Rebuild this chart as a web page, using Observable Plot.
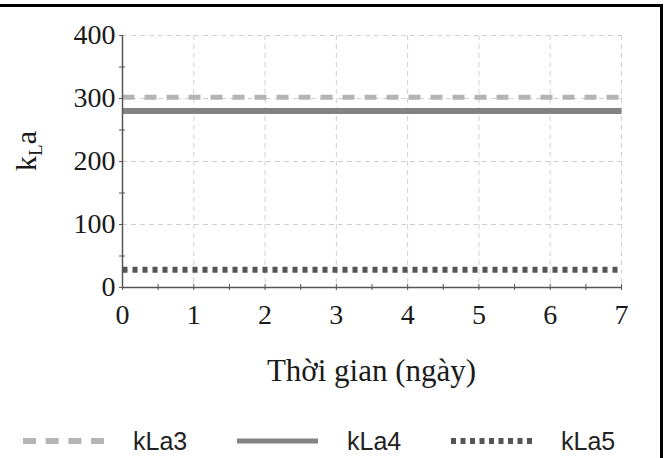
<!DOCTYPE html>
<html>
<head>
<meta charset="utf-8">
<script src="https://cdn.jsdelivr.net/npm/d3@7"></script>
<script src="https://cdn.jsdelivr.net/npm/@observablehq/plot@0.6"></script>
<style>
  body { margin: 0; background: #fff; }
  #wrap { position: relative; width: 667px; height: 458px; overflow: hidden; }
  #frame { position: absolute; left: 0; top: 4px; width: 660px; height: 460px;
           border-top: 3px solid #000; border-right: 3px solid #000; pointer-events: none; }
  #chart { position: absolute; left: 0; top: 0; }
  #legend { position: absolute; left: 0; top: 426px; width: 660px; height: 30px;
            font-family: "Liberation Sans Narrow", "Liberation Sans", Arial, sans-serif;
            font-size: 25px; color: #222; }
  #legend .item { position: absolute; top: 0; height: 30px; display: flex; align-items: center; }
  #legend svg { display: block; }
</style>
</head>
<body>
<div id="wrap">
  <div id="chart"></div>
  <div id="legend"></div>
  <div id="frame"></div>
</div>
<script>
// Data
const days = [0, 1, 2, 3, 4, 5, 6, 7];
const kLa3 = [302, 302, 302, 302, 302, 302, 302, 302];
const kLa4 = [280, 280, 280, 280, 280, 280, 280, 280];
const kLa5 = [28, 28, 28, 28, 28, 28, 28, 28];
const seriesNames = ["kLa3", "kLa4", "kLa5"];
const xTicks = [0, 1, 2, 3, 4, 5, 6, 7];
const xMinor = [0.5, 1.5, 2.5, 3.5, 4.5, 5.5, 6.5];
const yTicks = [0, 100, 200, 300, 400];
const yMinor = [50, 150, 250, 350];
const xLabel = "Thời gian (ngày)";

const styles = {
  kLa3: {stroke: "#b4b4b4", dash: "12,10", width: 5},
  kLa4: {stroke: "#838383", dash: null, width: 6},
  kLa5: {stroke: "#555555", dash: "5,5", width: 6}
};
const seriesData = {kLa3, kLa4, kLa5};
const rows = seriesNames.map(n => days.map((d, i) => ({day: d, value: seriesData[n][i], series: n})));

const serif = "'Liberation Serif', 'Times New Roman', serif";
const axisColor = "#555";
const textColor = "#1a1a1a";

const plot = Plot.plot({
  width: 667,
  height: 420,
  marginLeft: 122,
  marginRight: 46,
  marginTop: 35,
  marginBottom: 133,
  style: {fontFamily: serif, fontSize: "28px", color: textColor, background: "transparent", overflow: "visible"},
  x: {domain: [0, 7], label: null},
  y: {domain: [0, 400], label: null},
  marks: [
    Plot.gridX(xTicks, {stroke: "#d0d0d0", strokeOpacity: 1, strokeDasharray: "5,4", strokeWidth: 1}),
    Plot.gridY(yTicks, {stroke: "#d0d0d0", strokeOpacity: 1, strokeDasharray: "5,4", strokeWidth: 1}),
    ...rows.map((r, i) => Plot.line(r, {
      x: "day", y: "value",
      stroke: styles[seriesNames[i]].stroke,
      strokeWidth: styles[seriesNames[i]].width,
      strokeDasharray: styles[seriesNames[i]].dash,
      strokeLinecap: "butt"
    })),
    Plot.ruleX([0], {stroke: axisColor, strokeWidth: 1.5}),
    Plot.ruleY([0], {stroke: axisColor, strokeWidth: 1.5}),
    Plot.axisX(xTicks, {tickSize: 3, tickPadding: 14, stroke: axisColor, fontSize: 28, fill: textColor}),
    Plot.axisX(xTicks, {tickSize: -3, text: null, stroke: axisColor}),
    Plot.axisX(xMinor, {tickSize: 3, text: null, stroke: axisColor}),
    Plot.axisX(xMinor, {tickSize: -3, text: null, stroke: axisColor}),
    Plot.axisY(yTicks, {tickSize: 3, tickPadding: 4, stroke: axisColor, fontSize: 28, fill: textColor}),
    Plot.axisY(yMinor, {tickSize: 3, text: null, stroke: axisColor}),
    Plot.axisY(yMinor, {tickSize: -3, text: null, stroke: axisColor})
  ]
});
document.getElementById("chart").appendChild(plot);

// Axis titles
const svg = d3.select(plot);
svg.append("text")
  .attr("x", (122 + 621) / 2).attr("y", 381)
  .attr("text-anchor", "middle")
  .style("font-family", serif).style("font-size", "31px").attr("fill", textColor)
  .text(xLabel);
const yl = svg.append("text")
  .attr("transform", "translate(36,151) rotate(-90)")
  .attr("text-anchor", "middle")
  .style("font-family", serif).style("font-size", "30px").attr("fill", textColor);
yl.append("tspan").text("k");
yl.append("tspan").attr("dy", 6).style("font-size", "19px").text("L");
yl.append("tspan").attr("dy", -6).text("a");

// Legend
const legendPos = {kLa3: [23, 133], kLa4: [237, 347], kLa5: [451, 561]};
const leg = d3.select("#legend");
seriesNames.forEach(n => {
  const s = styles[n];
  const [sx, tx] = legendPos[n];
  const sw = leg.append("div").attr("class", "item").style("left", sx + "px")
    .append("svg").attr("width", 82).attr("height", 12);
  sw.append("line").attr("x1", 0).attr("x2", 81).attr("y1", 6).attr("y2", 6)
    .attr("stroke", s.stroke).attr("stroke-width", n === "kLa4" ? 5 : 6)
    .attr("stroke-dasharray", n === "kLa3" ? "13,9.7" : n === "kLa5" ? "5,4.5" : null);
  leg.append("div").attr("class", "item").style("left", tx + "px").text(n);
});
</script>
</body>
</html>
